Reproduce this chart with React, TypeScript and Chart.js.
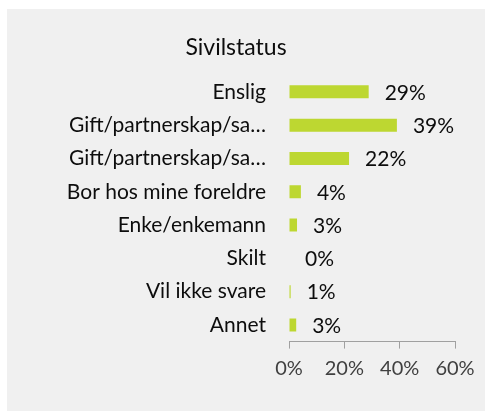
import React, { useEffect, useRef } from "react";
import { Chart, registerables } from "chart.js";

Chart.register(...registerables);

const categories = [
  "Enslig",
  "Gift/partnerskap/sa…",
  "Gift/partnerskap/sa…",
  "Bor hos mine foreldre",
  "Enke/enkemann",
  "Skilt",
  "Vil ikke svare",
  "Annet",
];
const values = [28.8, 39.0, 21.7, 4.3, 2.9, 0, 0.6, 2.6];
const xTicks = [0, 20, 40, 60];
const title = "Sivilstatus";

const FONT = "Lato, 'Noto Sans', sans-serif";

const dataLabelPlugin = {
  id: "dataLabels",
  afterDatasetsDraw(chart: any) {
    const ctx = chart.ctx;
    const meta = chart.getDatasetMeta(0);
    ctx.save();
    ctx.font = `21px ${FONT}`;
    ctx.fillStyle = "#0d0d0d";
    ctx.textAlign = "left";
    ctx.textBaseline = "middle";
    meta.data.forEach((bar: any, i: number) => {
      const v = values[i];
      ctx.fillText(`${Math.round(v)}%`, bar.x + 16, bar.y + 1);
    });
    ctx.restore();
  },
};

export default function App() {
  const ref = useRef<HTMLCanvasElement>(null);
  useEffect(() => {
    if (!ref.current) return;
    const chart = new Chart(ref.current, {
      type: "bar",
      data: {
        labels: categories,
        datasets: [
          {
            data: values,
            backgroundColor: "#bdd731",
            borderWidth: 0,
            barPercentage: 0.39,
            categoryPercentage: 1,
          },
        ],
      },
      options: {
        indexAxis: "y",
        responsive: false,
        animation: false,
        layout: { padding: { left: 10, right: 30, top: 0, bottom: 0 } },
        plugins: {
          legend: { display: false },
          tooltip: { enabled: false },
          title: {
            display: true,
            text: title,
            color: "#0d0d0d",
            font: { family: FONT, size: 23, weight: "normal" },
            padding: { top: 24.6, bottom: 14 },
          },
        },
        scales: {
          x: {
            min: 0,
            max: 60,
            afterBuildTicks: (scale: any) => {
              scale.ticks = xTicks.map((v) => ({ value: v }));
            },
            afterFit: (scale: any) => {
              scale.height = 69.4;
            },
            ticks: {
              callback: (v: any) => `${v}%`,
              color: "#404040",
              font: { family: FONT, size: 20 },
              padding: 8,
              maxRotation: 0,
            },
            grid: {
              display: true,
              drawOnChartArea: false,
              drawTicks: true,
              tickLength: 7,
              color: "#a0a0a0",
            },
            border: { display: true, color: "#a0a0a0", width: 1 },
          },
          y: {
            afterFit: (scale: any) => {
              scale.width = 272;
            },
            ticks: {
              color: "#0d0d0d",
              font: { family: FONT, size: 21 },
              padding: 23,
              autoSkip: false,
            },
            grid: { display: false, drawTicks: false },
            border: { display: false },
          },
        },
      },
      plugins: [dataLabelPlugin],
    });
    return () => chart.destroy();
  }, []);
  return (
    <div
      style={{
        position: "absolute",
        left: 7,
        top: 9,
        width: 478,
        height: 402,
        background: "#f0f0f0",
      }}
    >
      <canvas ref={ref} width={478} height={402} style={{ display: "block" }} />
    </div>
  );
}
